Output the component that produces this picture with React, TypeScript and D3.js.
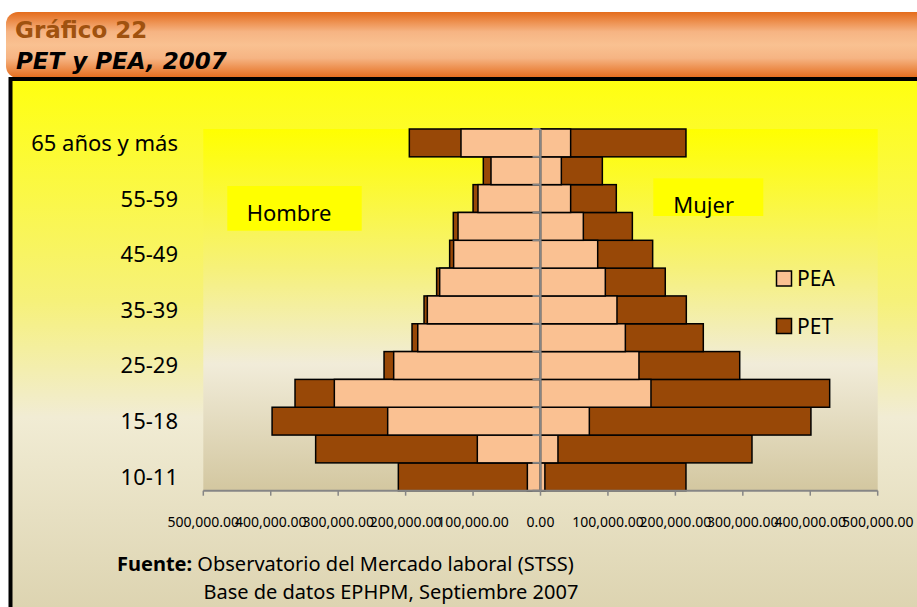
import * as d3 from 'd3'

// grupos de edad, de abajo hacia arriba
const grupos = [
  '10-11', '12-14', '15-18', '19-24', '25-29', '30-34', '35-39',
  '40-44', '45-49', '50-54', '55-59', '60-64', '65 años y más',
]
// Hombre (lado izquierdo)
const petHombre = [210800, 333400, 398000, 364000, 232000, 190500, 172700, 154000, 134700, 129300, 100000, 84800, 194500]
const peaHombre = [19500, 93700, 226600, 305700, 217700, 182000, 167800, 149500, 128800, 122300, 92700, 73400, 117900]
// Mujer (lado derecho)
const petMujer = [215700, 313600, 401000, 428800, 295400, 241400, 216200, 185000, 166300, 136200, 112400, 91700, 215700]
const peaMujer = [6500, 25900, 72400, 163800, 146000, 125800, 113400, 96100, 84800, 63500, 44700, 30900, 44700]

const ticks = [-500000, -400000, -300000, -200000, -100000, 0, 100000, 200000, 300000, 400000, 500000]

const W = 917
const H = 607
const plot = { left: 203.3, right: 877.7, top: 129, bottom: 490.7 }

const PEA = '#FAC192'
const PET = '#984807'
const sans = '"Noto Sans", "Open Sans", sans-serif'

export default function App() {
  const x = d3.scaleLinear().domain([-500000, 500000]).range([plot.left, plot.right])
  const y = d3
    .scaleBand<string>()
    .domain([...grupos].reverse())
    .range([plot.top, plot.bottom])
    .padding(0)
  const fmt = d3.format(',.2f')
  const bw = y.bandwidth()

  const bar = (v: number, cat: string, fill: string, key: string) => {
    const x0 = x(Math.min(0, v))
    const x1 = x(Math.max(0, v))
    return (
      <rect key={key} x={x0} y={y(cat)!} width={x1 - x0} height={bw}
        fill={fill} stroke="#000" strokeWidth={1.5} />
    )
  }

  return (
    <svg width={W} height={H} style={{ position: 'absolute', left: 0, top: 0, background: '#fff' }}>
      <defs>
        <linearGradient id="head" x1="0" y1="0" x2="0" y2="1">
          <stop offset="0" stopColor="#E46C1C" />
          <stop offset="0.3" stopColor="#F6B483" />
          <stop offset="0.5" stopColor="#F9C191" />
          <stop offset="0.7" stopColor="#F6B483" />
          <stop offset="1" stopColor="#E46C1C" />
        </linearGradient>
        <linearGradient id="outer" gradientUnits="userSpaceOnUse" x1="0" y1="80" x2="0" y2="607">
          <stop offset="0" stopColor="#FFFF10" />
          <stop offset="0.42" stopColor="#F6F17A" />
          <stop offset="0.64" stopColor="#F1ECD4" />
          <stop offset="1" stopColor="#DDD4B1" />
        </linearGradient>
        <linearGradient id="inner" gradientUnits="userSpaceOnUse" x1="0" y1={plot.top} x2="0" y2={plot.bottom}>
          <stop offset="0" stopColor="#FFFF00" />
          <stop offset="0.38" stopColor="#F6F178" />
          <stop offset="0.65" stopColor="#F1ECD9" />
          <stop offset="1" stopColor="#D3C7A0" />
        </linearGradient>
      </defs>

      {/* encabezado */}
      <rect x={6} y={12} width={940} height={66} rx={12} fill="url(#head)" />
      <text x={15} y={38} fontFamily='"DejaVu Sans", sans-serif' fontWeight="bold" fontSize={23} fill="#A0520F">
        Gráfico 22
      </text>
      <text x={16} y={69} fontFamily='"DejaVu Sans", sans-serif' fontWeight="bold" fontStyle="italic" fontSize={23} fill="#000">
        PET y PEA, 2007
      </text>

      {/* marco */}
      <rect x={10.5} y={79} width={940} height={600} fill="url(#outer)" stroke="#000" strokeWidth={4} />

      {/* área de trazado */}
      <rect x={plot.left} y={plot.top} width={plot.right - plot.left} height={plot.bottom - plot.top} fill="url(#inner)" />

      {/* barras: PET detrás, PEA delante */}
      {grupos.map((g, i) => bar(-petHombre[i], g, PET, 'ph' + i))}
      {grupos.map((g, i) => bar(petMujer[i], g, PET, 'pm' + i))}
      {grupos.map((g, i) => bar(-peaHombre[i], g, PEA, 'ah' + i))}
      {grupos.map((g, i) => bar(peaMujer[i], g, PEA, 'am' + i))}

      {/* eje vertical */}
      <line x1={x(0)} x2={x(0)} y1={plot.top} y2={plot.bottom} stroke="#868686" strokeWidth={2} />
      {[...y.domain().map((g) => y(g)!), plot.bottom].map((v, i) => (
        <line key={'yt' + i} x1={x(0) - 8} x2={x(0)} y1={v} y2={v} stroke="#868686" strokeWidth={2} />
      ))}

      {/* eje horizontal */}
      <line x1={plot.left} x2={plot.right} y1={plot.bottom} y2={plot.bottom} stroke="#868686" strokeWidth={2} />
      {ticks.map((t) => (
        <g key={'xt' + t}>
          <line x1={x(t)} x2={x(t)} y1={plot.bottom} y2={plot.bottom + 5} stroke="#868686" strokeWidth={1.5} />
          <text x={x(t)} y={527} textAnchor="middle" fontFamily={sans} fontSize={14} fill="#000">
            {fmt(Math.abs(t))}
          </text>
        </g>
      ))}

      {/* etiquetas de categoría */}
      {grupos.map((g, i) =>
        i % 2 === 0 ? (
          <text key={'c' + i} x={178} y={y(g)! + bw / 2 + 8} textAnchor="end" fontFamily={sans} fontSize={22} fill="#000">
            {g}
          </text>
        ) : null,
      )}

      {/* rótulos Hombre / Mujer */}
      <rect x={227.3} y={186} width={134.4} height={44.7} fill="#FFFF00" />
      <text x={246.7} y={220.7} fontFamily={sans} fontSize={22} fill="#000">Hombre</text>
      <rect x={653.3} y={178.3} width={110} height={37.7} fill="#FFFF00" />
      <text x={673.3} y={213.3} fontFamily={sans} fontSize={22} fill="#000">Mujer</text>

      {/* leyenda */}
      <rect x={776.5} y={271} width={15} height={15} fill={PEA} stroke="#000" strokeWidth={1.5} />
      <text x={797} y={286} fontFamily={sans} fontSize={21} fill="#000">PEA</text>
      <rect x={776.5} y={318.5} width={15} height={15} fill={PET} stroke="#000" strokeWidth={1.5} />
      <text x={797} y={334} fontFamily={sans} fontSize={21} fill="#000">PET</text>

      {/* fuente */}
      <text x={117} y={570.5} fontFamily={sans} fontSize={20} fill="#000">
        <tspan fontWeight="bold">Fuente:</tspan> Observatorio del Mercado laboral (STSS)
      </text>
      <text x={203.5} y={599} fontFamily={sans} fontSize={20} fill="#000">
        Base de datos EPHPM, Septiembre 2007
      </text>
    </svg>
  )
}
